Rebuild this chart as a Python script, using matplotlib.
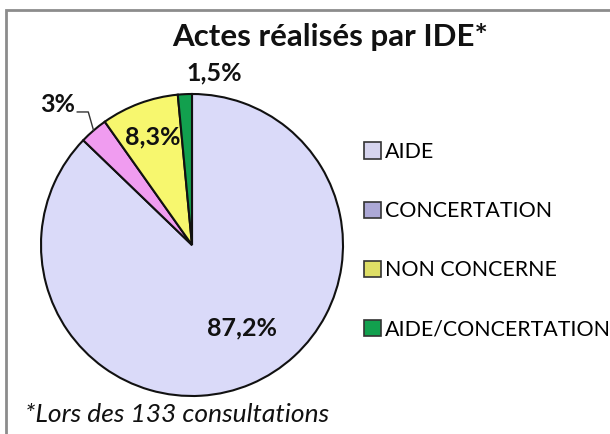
import numpy as np
import matplotlib
matplotlib.use('Agg')
import matplotlib.pyplot as plt
from matplotlib.patches import Patch, Rectangle

# data
categories = ['AIDE', 'CONCERTATION', 'NON CONCERNE', 'AIDE/CONCERTATION']
values = [87.2, 3.0, 8.3, 1.5]
value_labels = ['87,2%', '3%', '8,3%', '1,5%']
title = 'Actes réalisés par IDE*'
footnote = '*Lors des 133 consultations'

slice_colors = ['#dadaf9', '#f09cf0', '#f7f76e', '#12a04e']
legend_colors = ['#d6d4ee', '#aca8d6', '#dede66', '#12a04e']

plt.rcParams['font.family'] = ['Lato', 'DejaVu Sans']

fig = plt.figure(figsize=(6.1, 4.34), dpi=100)
W, H = 610, 434

# grey frame like the excel chart area
fig.patches.append(Rectangle((6 / W, -0.1), 1.2, (H - 10) / H + 0.1,
                             transform=fig.transFigure, fill=False,
                             edgecolor='#8c8c8c', lw=2))

# pie centre (192,245) px, radius 151 px
cx, cy, r = 192, 245, 151
ax = fig.add_axes([(cx - r) / W, (H - cy - r) / H, 2 * r / W, 2 * r / H])
wedges, _ = ax.pie(values, colors=slice_colors, startangle=90, counterclock=False,
                   wedgeprops=dict(edgecolor='#111111', linewidth=1.5))
ax.set_xlim(-1, 1)
ax.set_ylim(-1, 1)
ax.set_aspect('auto')
ax.axis('off')

lab_pos = [(0.33, -0.55), (-0.775, 0.93), (-0.258, 0.715), (0.146, 1.14)]
for (x, y), t in zip(lab_pos, value_labels):
    ha = 'right' if t == '3%' else 'center'
    ax.text(x, y, t, ha=ha, va='center', fontsize=18, fontweight='bold',
            color='#111111', clip_on=False)

# leader line for the small slice
w = wedges[1]
th = np.deg2rad((w.theta1 + w.theta2) / 2)
ex, ey = np.cos(th), np.sin(th)
ax.plot([ex, ex - 0.035, -0.76], [ey, 0.881, 0.881], color='#333333', lw=1,
        clip_on=False)

handles = [Patch(facecolor=c, edgecolor='#333333', lw=1.2) for c in legend_colors]
fig.legend(handles, categories, loc='upper left', bbox_to_anchor=(364 / W, 1 - 142 / H),
           frameon=False, fontsize=15.4, handlelength=0.8, handleheight=0.8,
           handletextpad=0.2, labelspacing=1.83, borderaxespad=0, borderpad=0)

fig.text(330 / W, 1 - 37 / H, title, ha='center', va='center', fontsize=22.5,
         fontweight='bold', color='#111111')
fig.text(25 / W, 1 - 414 / H, footnote, ha='left', va='center', fontsize=19,
         style='italic', color='#111111')

fig.savefig('out.png', dpi=100)
